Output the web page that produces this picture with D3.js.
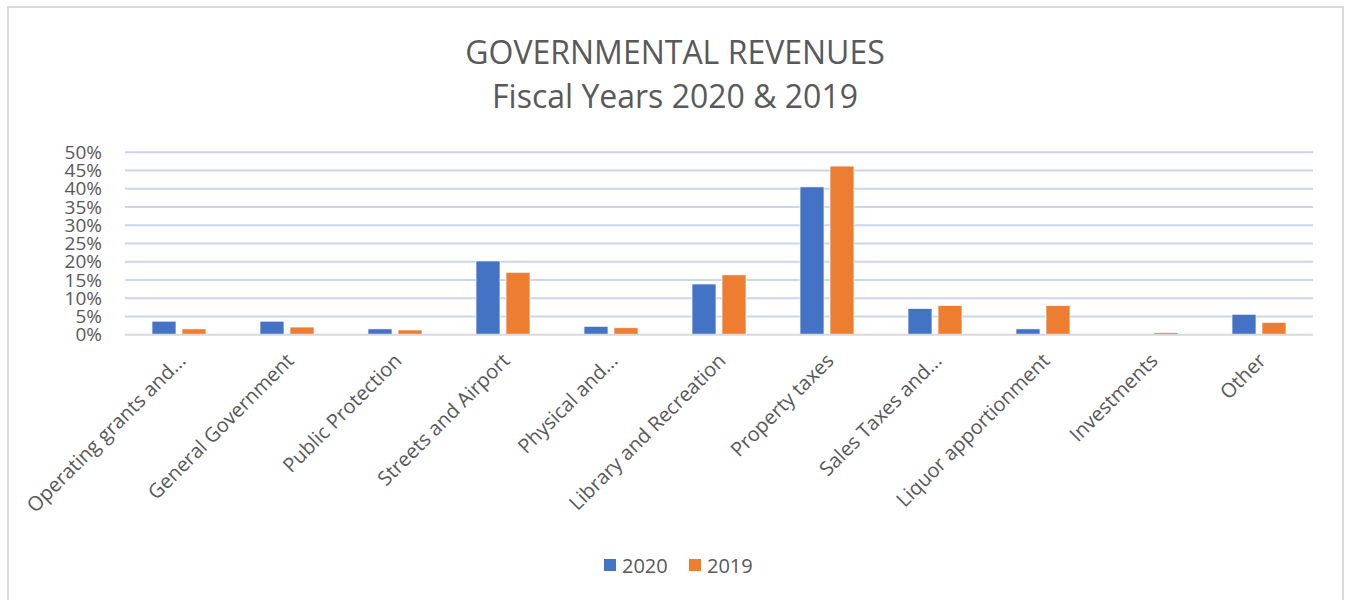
<!DOCTYPE html>
<html>
<head>
<meta charset="utf-8">
<script src="https://cdn.jsdelivr.net/npm/d3@7"></script>
<style>
  body { margin: 0; background: white; }
  text { font-family: "Open Sans", sans-serif; fill: #595959; }
</style>
</head>
<body>
<div id="chart"></div>
<script>
var categories = ["Operating grants and...", "General Government", "Public Protection",
  "Streets and Airport", "Physical and...", "Library and Recreation", "Property taxes",
  "Sales Taxes and...", "Liquor apportionment", "Investments", "Other"];
var seriesNames = ["2020", "2019"];
var values2020 = [3.7, 3.7, 1.6, 20.2, 2.3, 13.9, 40.5, 7.2, 1.6, 0, 5.6];
var values2019 = [1.6, 2.1, 1.3, 17.1, 1.9, 16.4, 46.2, 8.0, 8.0, 0.6, 3.4];
var yTicks = [0, 5, 10, 15, 20, 25, 30, 35, 40, 45, 50];
var colors = ["#4472C4", "#ED7D31"];

var width = 1347,
    height = 600;

var svg = d3.select("#chart").append("svg")
    .attr("width", width)
    .attr("height", height);

// chart frame
svg.append("rect")
    .attr("x", 8).attr("y", 7)
    .attr("width", 1335).attr("height", 620)
    .attr("fill", "none")
    .attr("stroke", "#d9d9d9")
    .attr("stroke-width", 2);

svg.append("text")
    .attr("x", 675).attr("y", 64)
    .attr("text-anchor", "middle")
    .style("font-size", "32px")
    .text("GOVERNMENTAL REVENUES");

svg.append("text")
    .attr("x", 675).attr("y", 108)
    .attr("text-anchor", "middle")
    .style("font-size", "32px")
    .text("Fiscal Years 2020 & 2019");

var x0 = d3.scaleBand()
    .domain(categories)
    .range([125, 1313]);

var x1 = d3.scaleBand()
    .domain(seriesNames)
    .range([x0.bandwidth() / 2 - 27, x0.bandwidth() / 2 + 27])
    .paddingInner(0.2);

var y = d3.scaleLinear()
    .domain([0, 50])
    .range([334.7, 152.2]);

// gridlines
svg.append("g")
    .selectAll("line")
    .data(yTicks.slice(1))
    .enter().append("line")
      .attr("x1", 125).attr("x2", 1313)
      .attr("y1", function(d) { return y(d); })
      .attr("y2", function(d) { return y(d); })
      .attr("stroke", "#c9d6ee")
      .attr("stroke-width", 2);

var yAxis = svg.append("g")
    .attr("transform", "translate(102,0)")
    .call(d3.axisLeft(y).tickValues(yTicks).tickSize(0).tickPadding(0)
      .tickFormat(function(d) { return d + "%"; }));
yAxis.select(".domain").remove();
yAxis.selectAll("text")
    .style("font-size", "19px")
    .style("fill", "#595959")
    .style("font-family", "'Open Sans', sans-serif");

var rows = categories.map(function(c, i) {
  return { cat: c, vals: [values2020[i], values2019[i]] };
});

var group = svg.selectAll(".cat")
    .data(rows)
    .enter().append("g")
      .attr("class", "cat")
      .attr("transform", function(d) { return "translate(" + x0(d.cat) + ",0)"; });

group.selectAll("rect")
    .data(function(d) { return d.vals.map(function(v, j) { return { s: seriesNames[j], v: v, j: j }; }); })
    .enter().append("rect")
      .filter(function(d) { return d.v > 0; })
      .attr("x", function(d) { return x1(d.s); })
      .attr("y", function(d) { return y(d.v); })
      .attr("width", x1.bandwidth())
      .attr("height", function(d) { return y(0) - y(d.v); })
      .attr("fill", function(d) { return colors[d.j]; })
      .attr("stroke", "white")
      .attr("stroke-width", 0.7);

// baseline
svg.append("line")
    .attr("x1", 125).attr("x2", 1313)
    .attr("y1", y(0)).attr("y2", y(0))
    .attr("stroke", "#d9d9d9")
    .attr("stroke-width", 2);

// rotated category labels
svg.append("g")
    .selectAll("text")
    .data(categories)
    .enter().append("text")
      .attr("transform", function(d) {
        return "translate(" + (x0(d) + x0.bandwidth() / 2 + 8) + ",362) rotate(-45)";
      })
      .attr("text-anchor", "end")
      .style("font-size", "20px")
      .text(function(d) { return d; });

// legend
var legend = svg.append("g")
    .selectAll("g")
    .data(seriesNames)
    .enter().append("g")
      .attr("transform", function(d, i) { return "translate(" + (604 + i * 85) + ",559)"; });

legend.append("rect")
    .attr("width", 12).attr("height", 12)
    .attr("fill", function(d, i) { return colors[i]; });

legend.append("text")
    .attr("x", 18).attr("y", 14)
    .style("font-size", "20px")
    .text(function(d) { return d; });
</script>
</body>
</html>
